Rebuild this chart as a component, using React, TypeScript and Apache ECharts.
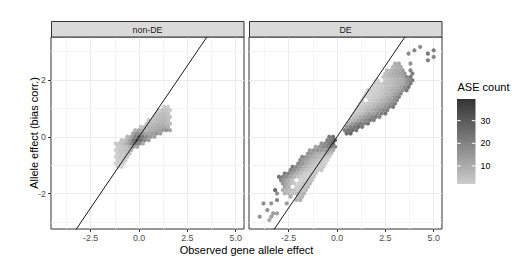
import React, { useEffect, useRef } from 'react';
import * as echarts from 'echarts';

// ---- axes / labels ----
const panels = ['non-DE', 'DE'];
const xTicks = [-2.5, 0, 2.5, 5];
const yTicks = [-2, 0, 2];
const xMinor = [-3.75, -1.25, 1.25, 3.75];
const yMinor = [-3, -1, 1, 3];
const xRange = [-4.55, 5.43];
const yRange = [-3.24, 3.51];
const legendTicks = [10, 20, 30];
const countRange = [2, 39.6];
const xTitle = 'Observed gene allele effect';
const yTitle = 'Allele effect (bias corr.)';
const legendTitle = 'ASE count';

// hex lattice spacing (data units)
const DX = 0.2;
const DY = 0.117;

// rows: [row index j (y = j*DY), x of first cell, ASE count per cell (0 = empty)]
const nonDeRows: [number, number, number[]][] = [
  [9, 1.3, [5, 5]],
  [8, 1.0, [6, 8, 8, 6]],
  [7, 0.9, [7, 9, 10, 8]],
  [6, 0.8, [8, 10, 11, 10, 8]],
  [5, 0.5, [6, 9, 11, 12, 12, 10]],
  [4, 0.4, [7, 10, 12, 13, 14, 12, 10]],
  [3, 0.1, [8, 10, 12, 14, 15, 16, 16, 14]],
  [2, -0.2, [12, 16, 14, 12, 14, 16, 18, 20, 22, 18]],
  [1, -0.3, [18, 24, 20, 18, 18, 20, 22, 20]],
  [0, -0.6, [12, 18, 28, 34, 30, 24, 20, 18]],
  [-1, -0.9, [8, 10, 18, 32, 38, 34, 26, 20]],
  [-2, -1.2, [6, 8, 10, 16, 26, 32, 26, 16]],
  [-3, -1.1, [6, 8, 10, 14, 20, 16]],
  [-4, -1.2, [5, 7, 9, 10, 12]],
  [-5, -1.1, [5, 7, 8, 8]],
  [-6, -1.2, [4, 6, 7, 6]],
  [-7, -1.1, [5, 6, 5]],
  [-8, -1.2, [4, 5, 4]],
  [-9, -1.1, [4, 3]],
];

const deRows: [number, number, number[]][] = [
  // upper cluster
  [1, 0.5, [34, 36]],
  [2, 0.4, [30, 33, 35, 32]],
  [3, 0.5, [22, 28, 32, 35, 30]],
  [4, 0.6, [14, 20, 26, 30, 28, 32]],
  [5, 0.7, [10, 14, 18, 22, 26, 30, 28]],
  [6, 0.8, [8, 10, 14, 18, 22, 26, 30, 26]],
  [7, 0.9, [6, 8, 10, 14, 18, 20, 24, 28, 30]],
  [8, 1.0, [5, 6, 8, 12, 14, 18, 22, 26, 28]],
  [9, 1.1, [4, 6, 8, 10, 12, 16, 18, 22, 26, 30]],
  [10, 1.2, [3, 4, 6, 8, 10, 14, 16, 20, 24, 28]],
  [11, 1.3, [3, 0, 5, 7, 9, 12, 14, 18, 22, 26]],
  [12, 1.4, [3, 4, 5, 6, 8, 10, 14, 16, 22, 28]],
  [13, 1.5, [4, 3, 5, 6, 8, 10, 12, 16, 20, 26]],
  [14, 1.6, [4, 5, 4, 6, 8, 10, 12, 14, 18, 22, 30]],
  [15, 1.9, [4, 5, 6, 8, 10, 12, 14, 18, 24, 32]],
  [16, 2.0, [5, 6, 7, 9, 10, 12, 14, 16, 22, 30]],
  [17, 2.1, [5, 0, 7, 9, 10, 12, 14, 18, 24, 30]],
  [18, 2.4, [8, 10, 12, 14, 15, 18, 26, 30]],
  [19, 2.5, [9, 12, 14, 16, 18, 22, 0, 28]],
  [20, 2.6, [10, 12, 14, 16, 20, 0, 26]],
  [21, 2.9, [12, 14, 16]],
  [22, 3.0, [14, 16, 0, 0, 22]],
  [23, 4.7, [28]],
  [24, 5.0, [26]],
  [25, 3.7, [24, 0, 0, 0, 0, 30]],
  [26, 4.0, [26, 0, 0, 0, 0, 28]],
  [27, 4.3, [24]],
  // lower cluster
  [0, -0.4, [30, 34]],
  [-1, -0.5, [28, 32, 35]],
  [-2, -0.8, [22, 26, 30, 34]],
  [-3, -1.1, [18, 22, 26, 28, 30, 26]],
  [-4, -1.4, [20, 22, 24, 22, 20, 18, 16]],
  [-5, -1.5, [22, 20, 16, 14, 12, 14, 10]],
  [-6, -1.8, [26, 22, 18, 14, 12, 10, 8, 6]],
  [-7, -1.9, [24, 20, 16, 12, 10, 8, 6, 5]],
  [-8, -2.0, [26, 22, 16, 12, 9, 7, 6, 5]],
  [-9, -2.3, [30, 26, 20, 14, 10, 8, 6, 5, 6]],
  [-10, -2.4, [28, 24, 18, 12, 8, 6, 5, 6, 7]],
  [-11, -2.7, [30, 26, 20, 14, 10, 6, 4, 6, 8]],
  [-12, -3.0, [32, 28, 24, 18, 12, 8, 5, 4, 6, 8]],
  [-13, -2.9, [26, 20, 14, 8, 0, 3, 5, 7, 9]],
  [-14, -2.8, [22, 16, 10, 6, 4, 6, 8, 10]],
  [-15, -2.7, [18, 12, 0, 5, 6, 8, 10]],
  [-16, -3.2, [36, 0, 14, 12, 10, 8, 6, 8, 10]],
  [-17, -3.1, [22, 0, 12, 10, 8, 9, 10, 12]],
  [-18, -2.4, [14, 0, 10, 12]],
  [-19, -3.1, [26, 0, 0, 0, 0, 12, 14]],
  [-20, -3.8, [24, 0, 22, 0, 0, 0, 20]],
  [-22, -3.6, [24]],
  [-23, -3.3, [20, 18]],
  [-24, -4.0, [22, 0, 0, 18]],
  [-25, -3.5, [16]],
];

const identityLine = [[-10, -10], [10, 10]];

function toCells(rows: [number, number, number[]][]) {
  const out: number[][] = [];
  rows.forEach(([j, xs, counts]) => {
    const off = Math.abs(j) % 2 === 1 ? DX / 2 : 0;
    const x0 = Math.round((xs - off) / DX) * DX + off;
    counts.forEach((c, k) => {
      if (c > 0) out.push([+(x0 + k * DX).toFixed(3), +(j * DY).toFixed(4), c]);
    });
  });
  return out;
}

const FONT = "'Liberation Sans', Arial, Helvetica, sans-serif";
const HEX = 'path://M0,-1L0.866,-0.5L0.866,0.5L0,1L-0.866,0.5L-0.866,-0.5Z';

export default function App() {
  const ref = useRef<HTMLDivElement>(null);
  useEffect(() => {
    if (!ref.current) return;
    const chart = echarts.init(ref.current, null, { renderer: 'svg' });

    const gridsPx = [
      { left: 51, top: 37, width: 193, height: 192 },
      { left: 249, top: 37, width: 193, height: 192 },
    ];

    const xAxes = gridsPx.map((_, i) => ({
      gridIndex: i,
      type: 'value',
      min: xRange[0],
      max: xRange[1],
      splitLine: { show: false },
      axisLine: { show: false, onZero: false },
      axisTick: { show: true, customValues: xTicks, length: 3, lineStyle: { color: '#333', width: 1 } },
      axisLabel: {
        customValues: xTicks,
        formatter: (v: number) => v.toFixed(1),
        fontSize: 8.8,
        color: '#4d4d4d',
        margin: 4,
        fontFamily: FONT,
      },
    }));
    const yAxes = gridsPx.map((_, i) => ({
      gridIndex: i,
      type: 'value',
      min: yRange[0],
      max: yRange[1],
      splitLine: { show: false },
      axisLine: { show: false, onZero: false },
      axisTick: i === 0
        ? { show: true, customValues: yTicks, length: 3, lineStyle: { color: '#333', width: 1 } }
        : { show: false },
      axisLabel: i === 0
        ? { customValues: yTicks, formatter: (v: number) => String(v), fontSize: 8.8, color: '#4d4d4d', margin: 5, fontFamily: FONT }
        : { show: false },
    }));

    const gridSeries: any[] = [];
    gridsPx.forEach((_, i) => {
      gridSeries.push({
        type: 'line', xAxisIndex: i, yAxisIndex: i, data: [[0, 0]], showSymbol: false, symbol: 'none',
        lineStyle: { opacity: 0 }, z: 1, silent: true,
        markLine: {
          z: 1, silent: true, symbol: ['none', 'none'], label: { show: false },
          lineStyle: { type: 'solid', color: '#f3f3f3', width: 0.8 },
          data: [...xMinor.map((v) => ({ xAxis: v })), ...yMinor.map((v) => ({ yAxis: v }))],
        },
      });
      gridSeries.push({
        type: 'line', xAxisIndex: i, yAxisIndex: i, data: [[0, 0]], showSymbol: false, symbol: 'none',
        lineStyle: { opacity: 0 }, z: 1, silent: true,
        markLine: {
          z: 1, silent: true, symbol: ['none', 'none'], label: { show: false },
          lineStyle: { type: 'solid', color: '#ebebeb', width: 1 },
          data: [...xTicks.map((v) => ({ xAxis: v })), ...yTicks.map((v) => ({ yAxis: v }))],
        },
      });
    });

    const barTop = 99, barBottom = 184, barX = 457, barW = 18.5;
    const legY = (v: number) => barBottom - ((v - countRange[0]) / (countRange[1] - countRange[0])) * (barBottom - barTop);

    const graphic: any[] = [];
    gridsPx.forEach((g, i) => {
      graphic.push({
        type: 'rect', shape: { x: g.left + 0.5, y: 21.5, width: g.width - 0.5, height: 15.5 },
        style: { fill: '#d9d9d9', stroke: '#333', lineWidth: 1 }, z: 10,
      });
      graphic.push({
        type: 'text', x: g.left + g.width / 2, y: 29.5, z: 11,
        style: { text: panels[i], fill: '#1a1a1a', fontSize: 8.8, fontFamily: FONT, textAlign: 'center', textVerticalAlign: 'middle' },
      });
    });
    graphic.push({
      type: 'text', x: (51 + 442) / 2, y: 250, z: 11,
      style: { text: xTitle, fill: '#000', fontSize: 11, fontFamily: FONT, textAlign: 'center', textVerticalAlign: 'middle' },
    });
    graphic.push({
      type: 'text', x: 34, y: 133, rotation: Math.PI / 2, z: 11,
      style: { text: yTitle, fill: '#000', fontSize: 11, fontFamily: FONT, textAlign: 'center', textVerticalAlign: 'middle' },
    });
    graphic.push({
      type: 'text', x: 457.5, y: 87, z: 11,
      style: { text: legendTitle, fill: '#000', fontSize: 11, fontFamily: FONT, textAlign: 'left', textVerticalAlign: 'middle' },
    });
    graphic.push({
      type: 'rect', shape: { x: barX, y: barTop, width: barW, height: barBottom - barTop }, z: 10,
      style: {
        fill: new echarts.graphic.LinearGradient(0, 0, 0, 1, [
          { offset: 0, color: '#333333' },
          { offset: 1, color: '#cccccc' },
        ]),
      },
    });
    legendTicks.forEach((t) => {
      const y = legY(t);
      graphic.push({ type: 'line', z: 11, shape: { x1: barX, y1: y, x2: barX + barW / 5, y2: y }, style: { stroke: '#fff', lineWidth: 1 } });
      graphic.push({ type: 'line', z: 11, shape: { x1: barX + barW - barW / 5, y1: y, x2: barX + barW, y2: y }, style: { stroke: '#fff', lineWidth: 1 } });
      graphic.push({
        type: 'text', x: barX + barW + 5, y, z: 11,
        style: { text: String(t), fill: '#000', fontSize: 8.8, fontFamily: FONT, textAlign: 'left', textVerticalAlign: 'middle' },
      });
    });

    const option: any = {
      animation: false,
      backgroundColor: '#fff',
      grid: gridsPx.map((g) => ({ ...g, show: true, borderColor: '#333', borderWidth: 1, backgroundColor: '#fff', containLabel: false })),
      xAxis: xAxes,
      yAxis: yAxes,
      visualMap: {
        type: 'continuous', show: false, dimension: 2, min: countRange[0], max: countRange[1],
        seriesIndex: [0, 1], inRange: { color: ['#cccccc', '#333333'] },
      },
      series: [
        { type: 'scatter', xAxisIndex: 0, yAxisIndex: 0, data: toCells(nonDeRows), symbol: HEX, symbolSize: [3.95, 4.55], z: 3, silent: true },
        { type: 'scatter', xAxisIndex: 1, yAxisIndex: 1, data: toCells(deRows), symbol: HEX, symbolSize: [3.95, 4.55], z: 3, silent: true },
        ...gridsPx.map((_, i) => ({
          type: 'line', xAxisIndex: i, yAxisIndex: i, data: identityLine, symbol: 'none', clip: true, z: 5, silent: true,
          lineStyle: { color: '#000', width: 0.9 },
        })),
        ...gridSeries,
      ],
      graphic,
    };
    chart.setOption(option);
    return () => chart.dispose();
  }, []);

  return <div ref={ref} style={{ position: 'fixed', left: 0, top: 0, width: 524, height: 271 }} />;
}
